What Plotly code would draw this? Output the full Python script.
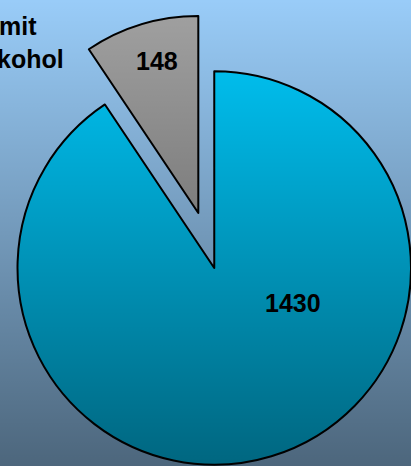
import base64
import plotly.graph_objects as go

# Daten
labels = ["ohne Alkohol", "mit Alkohol"]
values = [1430, 148]
label_lines = ["ohne<br>Alkohol", "mit<br>Alkohol"]

W, H = 411, 466
colors = {"mit Alkohol": "#A2A2A2", "ohne Alkohol": "#00CCFF"}
font = "Liberation Sans, Arial, sans-serif"


def pie_trace(show_idx, domain):
    # nur ein Segment sichtbar, das andere transparent
    fill = []
    lw = []
    for i, lab in enumerate(labels):
        fill.append(colors[lab] if i == show_idx else "rgba(0,0,0,0)")
        lw.append(2 if i == show_idx else 0)
    return go.Pie(
        labels=labels,
        values=values,
        sort=False,
        direction="clockwise",
        rotation=0,
        marker=dict(colors=fill, line=dict(color="black", width=lw)),
        textinfo="none",
        hoverinfo="skip",
        domain=domain,
        showlegend=False,
    )


fig = go.Figure()
# Hauptsegment (ohne Alkohol)
fig.add_trace(pie_trace(0, dict(x=[0.0426, 1.0], y=[0.0022, 0.8476])))
# herausgezogenes Segment (mit Alkohol)
fig.add_trace(pie_trace(1, dict(x=[0.0032, 0.9618], y=[0.1202, 0.9657])))

# Verlauf oben hell -> unten dunkel
svg = (
    f'<svg xmlns="http://www.w3.org/2000/svg" width="{W}" height="{H}">'
    '<defs><linearGradient id="g" x1="0" y1="0" x2="0" y2="1">'
    '<stop offset="0" stop-color="#000" stop-opacity="0"/>'
    '<stop offset="1" stop-color="#000" stop-opacity="0.5"/>'
    "</linearGradient></defs>"
    f'<rect width="{W}" height="{H}" fill="url(#g)"/></svg>'
)
src = "data:image/svg+xml;base64," + base64.b64encode(svg.encode()).decode()
fig.add_layout_image(
    source=src, xref="paper", yref="paper", x=0, y=1, sizex=1, sizey=1,
    xanchor="left", yanchor="top", sizing="stretch", layer="above",
)

# Beschriftungen
txt = dict(family=font, size=25, color="black")
ann = dict(xref="paper", yref="paper", showarrow=False, font=txt,
           xanchor="center", yanchor="middle", align="center")
fig.add_annotation(text=f"<b>{values[1]}</b>", x=0.3832, y=0.869, **ann)
fig.add_annotation(text=f"<b>{values[0]}</b>", x=0.7141, y=0.3498, **ann)
fig.add_annotation(text=f"<b>{label_lines[1]}</b>", x=0.0426, y=0.908, **ann)

fig.update_layout(
    width=W,
    height=H,
    margin=dict(l=0, r=0, t=0, b=0),
    paper_bgcolor="#99CCF8",
    plot_bgcolor="#99CCF8",
)

fig.write_html("out.html", config={"displayModeBar": False},
               post_script="document.body.style.margin='0';")
